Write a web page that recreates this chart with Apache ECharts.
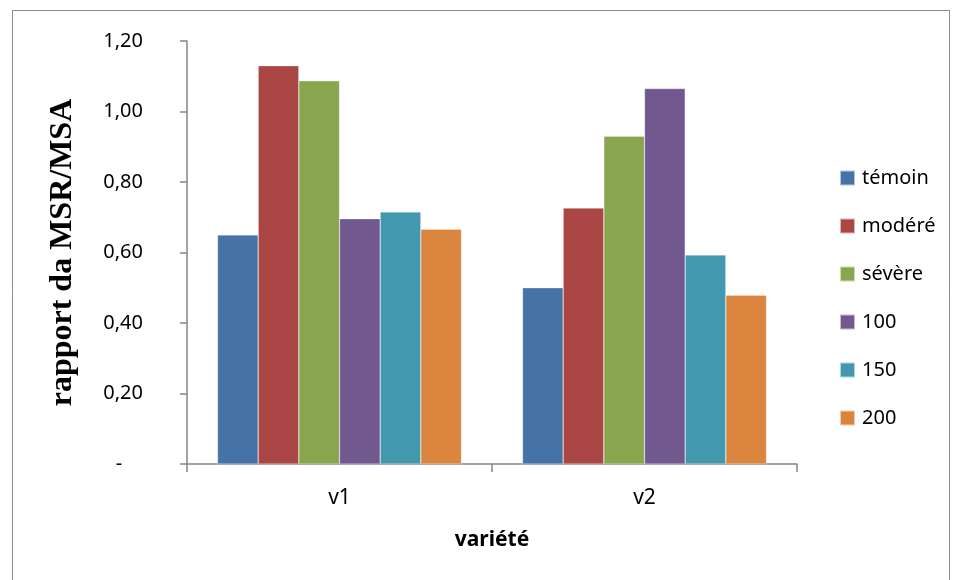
<!DOCTYPE html>
<html><head><meta charset="utf-8">
<script src="https://cdn.jsdelivr.net/npm/echarts@6/dist/echarts.min.js"></script>
<style>html,body{margin:0;padding:0;background:#fff}#c{width:960px;height:580px}</style>
</head><body><div id="c"></div>
<script>
const categories = ['v1', 'v2'];
const seriesNames = ['témoin', 'modéré', 'sévère', '100', '150', '200'];
const temoin = [0.65, 0.50];
const modere = [1.13, 0.726];
const severe = [1.087, 0.930];
const s100 = [0.696, 1.065];
const s150 = [0.715, 0.593];
const s200 = [0.666, 0.479];
const yTicks = [0, 0.2, 0.4, 0.6, 0.8, 1.0, 1.2];
const colors = ['#4572A7', '#AA4643', '#89A54E', '#71588F', '#4198AF', '#DB843D'];
const values = [temoin, modere, severe, s100, s150, s200];

const chart = echarts.init(document.getElementById('c'));
const font = '"Noto Sans", "Open Sans", sans-serif';
chart.setOption({
  animation: false,
  color: colors,
  graphic: [{type: 'rect', shape: {x: 12.5, y: 10.5, width: 937, height: 600}, style: {fill: 'none', stroke: '#8c8c8c', lineWidth: 1}, z: -10}],
  grid: {left: 187, right: 163, top: 41, bottom: 116},
  legend: {
    orient: 'vertical', left: 839, top: 167, padding: 0,
    itemWidth: 15, itemHeight: 15, itemGap: 26, icon: 'rect',
    textStyle: {fontFamily: font, fontSize: 20, color: '#000', lineHeight: 22, padding: [0,0,0,2]},
    data: seriesNames
  },
  xAxis: {
    type: 'category', data: categories,
    name: 'variété', nameLocation: 'middle', nameGap: 66,
    nameTextStyle: {fontFamily: font, fontSize: 21, fontWeight: 'bold', color: '#000'},
    axisLine: {lineStyle: {color: '#868686', width: 1.5}},
    axisTick: {show: true, length: 8, lineStyle: {color: '#868686', width: 1.5}},
    axisLabel: {fontFamily: font, fontSize: 21, color: '#000', margin: 24}
  },
  yAxis: {
    type: 'value', min: 0, max: 1.2, interval: 0.2,
    name: 'rapport da MSR/MSA', nameLocation: 'middle', nameGap: 108, nameRotate: 90,
    nameTextStyle: {fontFamily: '"Liberation Serif", "Times New Roman", serif', fontSize: 32, fontWeight: 'bold', color: '#000'},
    axisLine: {show: true, lineStyle: {color: '#868686', width: 1.5}},
    axisTick: {show: true, length: 7, lineStyle: {color: '#868686', width: 1.5}},
    splitLine: {show: false},
    axisLabel: {
      fontFamily: font, fontSize: 20, color: '#000', margin: 44,
      formatter: v => {
        const t = yTicks.find(x => Math.abs(x - v) < 1e-9);
        if (t === 0) return '-    ';
        return v.toFixed(2).replace('.', ',');
      }
    }
  },
  series: seriesNames.map((n, i) => ({
    name: n, type: 'bar', data: values[i],
    barGap: '0%', barCategoryGap: '20%',
    itemStyle: {color: colors[i], borderColor: 'rgba(255,255,255,0.6)', borderWidth: 0.5}
  }))
});
</script></body></html>
